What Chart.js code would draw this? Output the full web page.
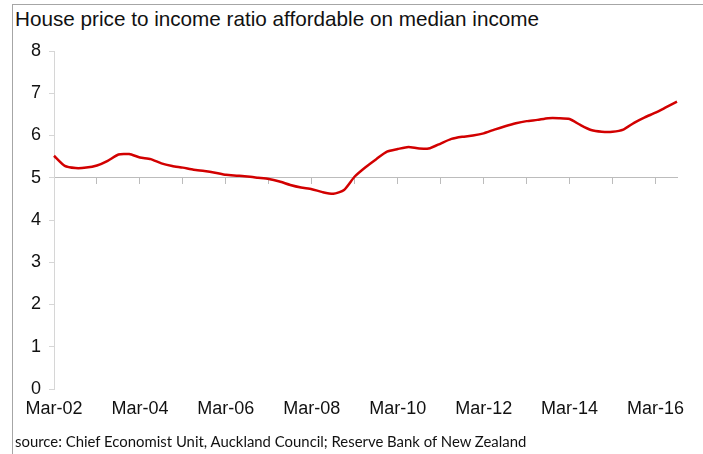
<!DOCTYPE html>
<html>
<head>
<meta charset="utf-8">
<script src="https://cdn.jsdelivr.net/npm/chart.js@4.4.1/dist/chart.umd.min.js"></script>
<style>
  html, body { margin: 0; padding: 0; background: #fff; }
  #wrap { position: relative; width: 703px; height: 454px; overflow: hidden; }
  #frame { position: absolute; left: 12px; top: 4px; right: 0; bottom: 0;
           border-left: 1px solid #a6a6a6; border-top: 1px solid #a6a6a6; }
  #title { position: absolute; left: 15px; top: 7px; font: 20.7px "Liberation Sans", Arial, sans-serif;
           color: #111; white-space: nowrap; }
  #source { position: absolute; left: 15px; top: 432px; font: 14.9px Lato, "Noto Sans", sans-serif;
            color: #111; white-space: nowrap; }
  #c { position: absolute; left: 0; top: 0; }
</style>
</head>
<body>
<div id="wrap">
  <div id="frame"></div>
  <div id="title">House price to income ratio affordable on median income</div>
  <canvas id="c" width="703" height="454"></canvas>
  <div id="source">source: Chief Economist Unit, Auckland Council; Reserve Bank of New Zealand</div>
</div>
<script>
// quarterly categories, Mar-02 .. Sep-16
const quarters = [
  'Mar-02','Jun-02','Sep-02','Dec-02','Mar-03','Jun-03','Sep-03','Dec-03',
  'Mar-04','Jun-04','Sep-04','Dec-04','Mar-05','Jun-05','Sep-05','Dec-05',
  'Mar-06','Jun-06','Sep-06','Dec-06','Mar-07','Jun-07','Sep-07','Dec-07',
  'Mar-08','Jun-08','Sep-08','Dec-08','Mar-09','Jun-09','Sep-09','Dec-09',
  'Mar-10','Jun-10','Sep-10','Dec-10','Mar-11','Jun-11','Sep-11','Dec-11',
  'Mar-12','Jun-12','Sep-12','Dec-12','Mar-13','Jun-13','Sep-13','Dec-13',
  'Mar-14','Jun-14','Sep-14','Dec-14','Mar-15','Jun-15','Sep-15','Dec-15',
  'Mar-16','Jun-16','Sep-16'
];

// house price to income ratio
const ratio = [
  5.52, 5.28, 5.23, 5.24, 5.29, 5.40, 5.55, 5.56,
  5.48, 5.44, 5.34, 5.28, 5.24, 5.19, 5.16, 5.12,
  5.07, 5.05, 5.03, 5.00, 4.97, 4.91, 4.83, 4.77,
  4.73, 4.66, 4.62, 4.71, 5.03, 5.25, 5.44, 5.62,
  5.68, 5.73, 5.69, 5.70, 5.81, 5.92, 5.97, 6.00,
  6.05, 6.14, 6.22, 6.29, 6.34, 6.37, 6.41, 6.41,
  6.39, 6.25, 6.13, 6.09, 6.09, 6.14, 6.30, 6.43,
  6.54, 6.67, 6.80
];

const yTicks = [0, 1, 2, 3, 4, 5, 6, 7, 8];
const axisCross = 5;   // category axis crosses the value axis here

const font18 = { family: '"Liberation Sans", Arial, sans-serif', size: 18 };

new Chart(document.getElementById('c'), {
  type: 'line',
  data: {
    labels: quarters,
    datasets: [{
      label: 'Ratio',
      data: ratio,
      borderColor: '#d20000',
      borderWidth: 2.5,
      pointRadius: 0,
      tension: 0.2,
      fill: false
    }]
  },
  options: {
    responsive: false,
    animation: false,
    layout: { padding: { left: 0, right: 26, top: 51, bottom: 0 } },
    plugins: { legend: { display: false }, tooltip: { enabled: false } },
    scales: {
      x: {
        offset: false,
        border: { display: false },
        grid: { display: false, drawTicks: false },
        ticks: {
          autoSkip: false, maxRotation: 0, minRotation: 0,
          padding: 9, color: '#111', font: font18,
          callback: (v, i) => (i % 8 === 0 ? quarters[i] : '')
        },
        afterFit: s => { s.height = 65; }
      },
      xline: {
        type: 'category',
        position: { y: axisCross },
        offset: false,
        border: { display: true, color: '#bcbcbc', width: 1 },
        grid: {
          drawOnChartArea: false, drawTicks: true, tickLength: 6,
          color: ctx => (ctx.index % 4 === 0 ? '#bcbcbc' : 'rgba(0,0,0,0)')
        },
        ticks: { display: false, autoSkip: false }
      },
      y: {
        min: 0, max: 8,
        afterBuildTicks: s => { s.ticks = yTicks.map(v => ({ value: v })); },
        border: { display: true, color: '#d6d6d6', width: 1 },
        grid: { drawOnChartArea: false, drawTicks: true, tickLength: 5, color: '#d6d6d6' },
        ticks: { padding: 8, color: '#111', font: font18 },
        afterFit: s => { s.width = 54; }
      }
    }
  }
});
</script>
</body>
</html>
